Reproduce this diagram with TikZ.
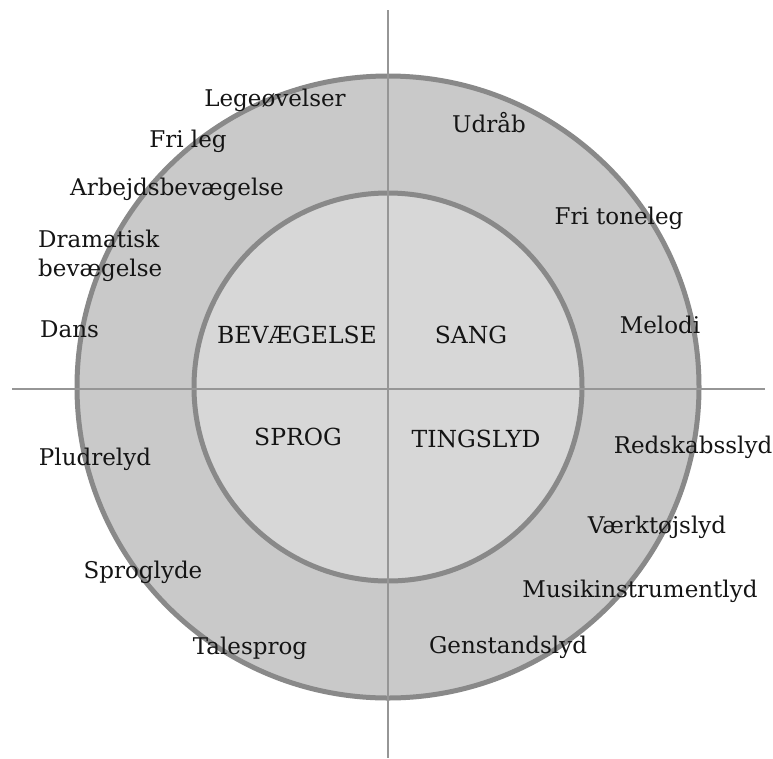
\documentclass[tikz,border=0pt]{standalone}
\usepackage{fontspec}
\setmainfont{DejaVu Serif}
\definecolor{ringfill}{RGB}{201,201,201}
\definecolor{corefill}{RGB}{215,215,215}
\definecolor{ringline}{RGB}{137,137,137}
\definecolor{axisline}{RGB}{150,150,150}
\definecolor{txt}{RGB}{20,20,20}
\tikzset{
  lbl/.style={anchor=base, inner sep=0pt, text=txt, font=\fontsize{23}{28}\selectfont},
  lblw/.style={lbl, anchor=base west},
  core/.style={lbl, font=\fontsize{23.5}{28}\selectfont},
  ring/.style={draw=ringline, line width=5pt},
  axis/.style={draw=axisline, line width=1.4pt}
}
\begin{document}
\begin{tikzpicture}[x=1pt, y=-1pt]
\useasboundingbox (0,0) rectangle (773,758);
\coordinate (c) at (388,387);
% circles
\path[ring, fill=ringfill] (c) circle[radius=311pt];
\path[ring, fill=corefill] (c) circle[radius=194pt];
% axes
\coordinate (vtop) at (388,10);
\coordinate (vbot) at (388,758);
\coordinate (hl) at (12,389);
\coordinate (hr) at (765,389);
\draw[axis] (vtop) -- (vbot);
\draw[axis] (hl) -- (hr);
% core labels
\node[core] (bev) at (297,343) {BEVÆGELSE};
\node[core] (sang) at (471,343) {SANG};
\node[core] (sprog) at (298,445) {SPROG};
\node[core] (ting) at (476,447) {TINGSLYD};
% outer labels: bevaegelse
\node[lbl] (lege) at (275,106) {Legeøvelser};
\node[lbl] (frileg) at (188,147) {Fri leg};
\node[lbl] (arb) at (177,195) {Arbejdsbevægelse};
\node[lblw] (dram1) at (38,247) {Dramatisk};
\node[lblw] (dram2) at (38,276) {bevægelse};
\node[lblw] (dans) at (40,337) {Dans};
% sang
\node[lbl] (udraab) at (489,132) {Udråb};
\node[lbl] (fritone) at (619,224) {Fri toneleg};
\node[lbl] (melodi) at (660,333) {Melodi};
% sprog
\node[lbl] (pludre) at (95,465) {Pludrelyd};
\node[lbl] (sproglyde) at (143,578) {Sproglyde};
\node[lbl] (tale) at (250,654) {Talesprog};
% tingslyd
\node[lbl] (redskab) at (693,453) {Redskabsslyd};
\node[lbl] (vaerk) at (657,533) {Værktøjslyd};
\node[lbl] (musik) at (640,597) {Musikinstrumentlyd};
\node[lbl] (genstand) at (508,653) {Genstandslyd};
\end{tikzpicture}
\end{document}
